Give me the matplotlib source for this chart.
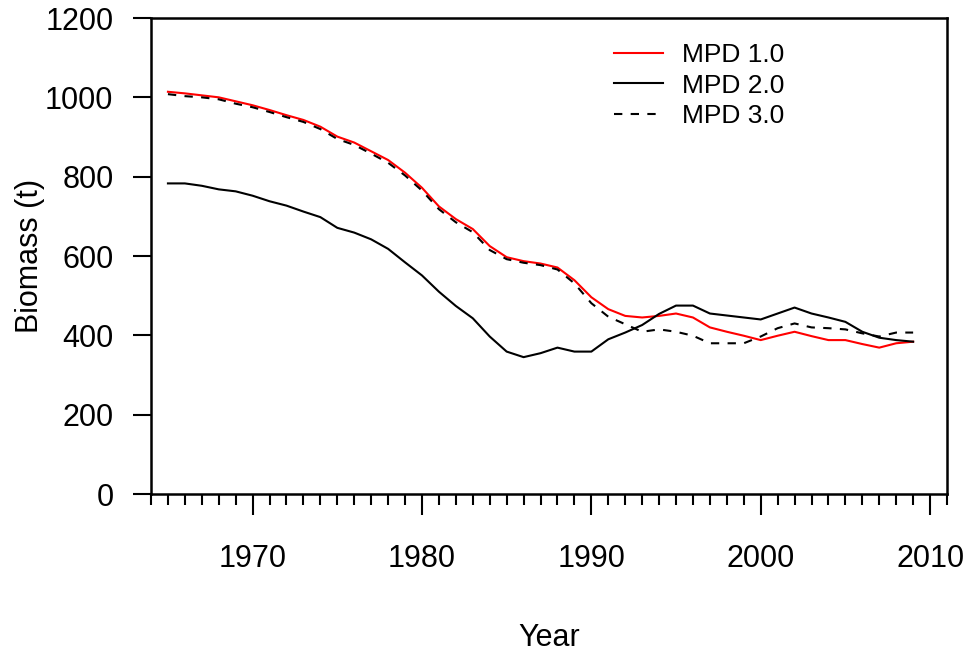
import matplotlib
matplotlib.use("Agg")
import matplotlib.pyplot as plt
from matplotlib.ticker import FixedLocator

years = list(range(1965, 2010))
mpd1 = [1014, 1010, 1005, 1000, 990, 980, 968, 955, 943, 926, 901, 886, 864, 842, 810,
        772, 725, 693, 668, 625, 597, 587, 581, 571, 539, 496, 466, 449, 445, 449,
        455, 445, 420, 409, 399, 388, 399, 409, 398, 388, 388, 378, 369, 380, 384]
mpd2 = [783, 783, 777, 768, 763, 752, 738, 727, 712, 698, 671, 659, 642, 618, 584,
        551, 510, 474, 443, 397, 359, 345, 355, 369, 359, 359, 390, 407, 426, 454,
        475, 475, 455, 450, 445, 440, 455, 470, 455, 445, 434, 409, 394, 388, 384]
mpd3 = [1008, 1003, 1000, 995, 984, 975, 963, 950, 938, 920, 895, 880, 858, 835, 803,
        765, 718, 685, 660, 615, 592, 583, 577, 566, 531, 481, 447, 428, 409, 415,
        409, 399, 380, 380, 380, 397, 418, 430, 420, 418, 415, 405, 397, 407, 407]
series_labels = ["MPD 1.0", "MPD 2.0", "MPD 3.0"]
major_years = [1970, 1980, 1990, 2000, 2010]
minor_years = list(range(1964, 2012))
yticks = [0, 200, 400, 600, 800, 1000, 1200]

plt.rcParams['font.family'] = ['Liberation Sans', 'DejaVu Sans']

fig = plt.figure(figsize=(9.7, 6.55), dpi=100)
ax = fig.add_axes([151/970, 1 - 494/655, (947-151)/970, (494-18)/655])

ax.plot(years, mpd1, color='red', lw=1.5, label=series_labels[0])
ax.plot(years, mpd2, color='black', lw=1.5, label=series_labels[1])
ax.plot(years, mpd3, color='black', lw=1.5, ls=(0, (4, 4)), label=series_labels[2])

ax.set_xlim(1964, 2011)
ax.set_ylim(0, 1200)

ax.xaxis.set_major_locator(FixedLocator(major_years))
ax.xaxis.set_minor_locator(FixedLocator([y for y in minor_years if y not in major_years]))
ax.set_xticklabels([str(y) for y in major_years])
ax.set_yticks(yticks)
ax.set_yticklabels([str(v) for v in yticks])

ax.tick_params(axis='x', which='major', length=15, width=1.5, pad=21, labelsize=22, direction='out')
ax.tick_params(axis='x', which='minor', length=8, width=1.5, direction='out')
ax.tick_params(axis='y', which='major', length=13, width=1.5, pad=14, labelsize=22, direction='out')

for s in ax.spines.values():
    s.set_linewidth(1.8)
    s.set_color('black')

ax.set_xlabel("Year", fontsize=22, labelpad=35)
ax.set_ylabel("Biomass (t)", fontsize=22, labelpad=0)

leg = ax.legend(loc='upper left', bbox_to_anchor=(0.5655, 0.975), frameon=False, fontsize=19,
                handlelength=1.85, handletextpad=0.72, labelspacing=0.25, borderpad=0)

fig.savefig("out.png", dpi=100)
